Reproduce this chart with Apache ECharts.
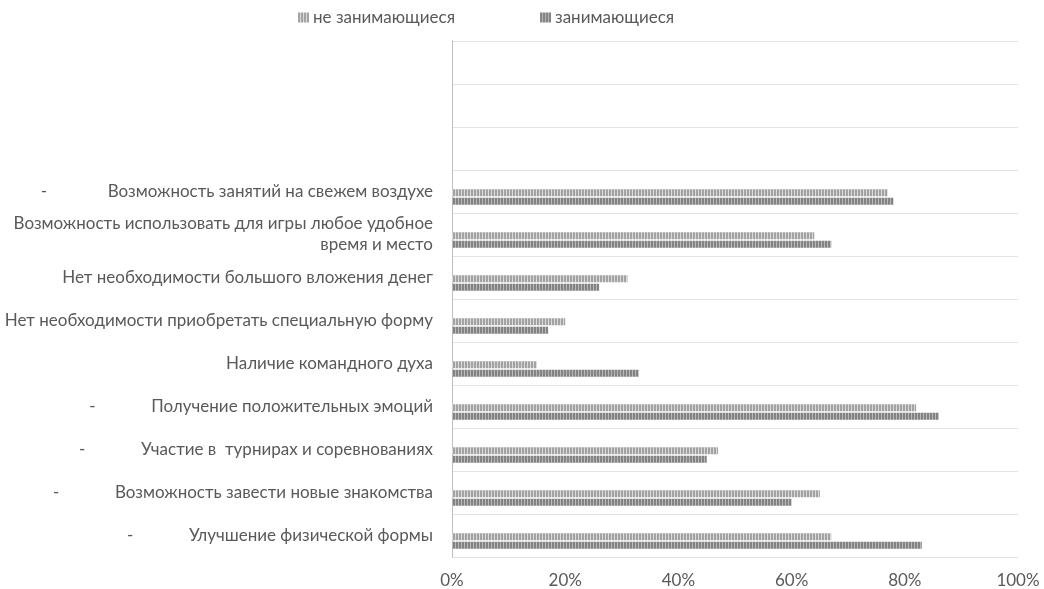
<!DOCTYPE html>
<html>
<head>
<meta charset="utf-8">
<script src="https://cdn.jsdelivr.net/npm/echarts@6/dist/echarts.min.js"></script>
<style>
  html, body { margin: 0; padding: 0; background: #ffffff; }
  #chart { width: 1044px; height: 589px; }
</style>
</head>
<body>
<div id="chart"></div>
<script>
// Categories listed bottom-to-top; a leading "-" marks a label drawn with a dash in front.
const categories = [
  '- Улучшение физической формы',
  '- Возможность завести новые знакомства',
  '- Участие в  турнирах и соревнованиях',
  '- Получение положительных эмоций',
  'Наличие командного духа',
  'Нет необходимости приобретать специальную форму',
  'Нет необходимости большого вложения денег',
  'Возможность использовать для игры любое удобное\nвремя и место',
  '- Возможность занятий на свежем воздухе',
  '', '', ''
];
const seriesNames = ['не занимающиеся', 'занимающиеся'];
const notPlaying = [67, 65, 47, 82, 15, 20, 31, 64, 77];
const playing = [83, 60, 45, 86, 33, 17, 26, 67, 78];
const xTicks = [0, 20, 40, 60, 80, 100];

const FONT = 'Lato, "Open Sans", sans-serif';
const TEXT = '#595959';
const LABEL_SIZE = 17;

// vertical hatch fill for the bars
function stripes(line, gap) {
  const c = document.createElement('canvas');
  c.width = 3; c.height = 4;
  const ctx = c.getContext('2d');
  ctx.fillStyle = gap; ctx.fillRect(0, 0, 3, 4);
  ctx.fillStyle = line; ctx.fillRect(0, 0, 2, 4);
  return c;
}
const lightFill = { image: stripes('#a3a3a3', '#d9d9d9'), repeat: 'repeat' };
const darkFill = { image: stripes('#838383', '#b8b8b8'), repeat: 'repeat' };

function formatLabel(value, index) {
  if (value.indexOf('\n') >= 0) {
    const parts = value.split('\n');
    return parts[0] + '\n{c|' + parts[1] + '}';
  }
  if (value.indexOf('- ') === 0) {
    const style = index === 8 ? 'dw' : 'd';
    return '{' + style + '|-}' + value.slice(2);
  }
  return value;
}

const chart = echarts.init(document.getElementById('chart'), null, { renderer: 'canvas' });
chart.setOption({
  animation: false,
  backgroundColor: '#ffffff',
  textStyle: { fontFamily: FONT },
  legend: {
    data: seriesNames,
    top: 4,
    left: 293,
    itemWidth: 11,
    itemHeight: 10,
    itemGap: 85,
    icon: 'rect',
    textStyle: { color: TEXT, fontSize: LABEL_SIZE, fontFamily: FONT, padding: [0, 0, 0, -1] }
  },
  grid: { left: 452, right: 26, top: 41, bottom: 30, containLabel: false },
  xAxis: {
    type: 'value',
    min: xTicks[0],
    max: xTicks[xTicks.length - 1],
    interval: 20,
    axisLine: { show: false },
    axisTick: { show: false },
    splitLine: { show: false },
    axisLabel: {
      formatter: '{value}%',
      color: TEXT,
      fontSize: LABEL_SIZE,
      fontFamily: FONT,
      margin: 15
    }
  },
  yAxis: {
    type: 'category',
    data: categories,
    axisLine: { show: true, lineStyle: { color: '#bfbfbf', width: 1 } },
    axisTick: { show: false },
    splitLine: { show: true, lineStyle: { color: '#e3e3e3', width: 1 } },
    axisLabel: {
      interval: 0,
      color: TEXT,
      fontSize: LABEL_SIZE,
      fontFamily: FONT,
      margin: 19,
      lineHeight: 21,
      formatter: formatLabel,
      rich: {
        d: { width: 62, align: 'left', color: TEXT, fontSize: LABEL_SIZE, fontFamily: FONT },
        dw: { width: 67, align: 'left', color: TEXT, fontSize: LABEL_SIZE, fontFamily: FONT },
        c: { width: '100%', align: 'center', color: TEXT, fontSize: LABEL_SIZE, fontFamily: FONT, lineHeight: 21 }
      }
    }
  },
  series: [
    // empty slot above each pair keeps the two bars in the lower part of the band
    { type: 'bar', data: [], barWidth: 9, barGap: '21%', silent: true },
    {
      name: seriesNames[0], type: 'bar', data: notPlaying,
      barWidth: 7, barGap: '21%',
      itemStyle: { color: lightFill }
    },
    {
      name: seriesNames[1], type: 'bar', data: playing,
      barWidth: 7, barGap: '21%',
      itemStyle: { color: darkFill }
    }
  ]
});
</script>
</body>
</html>
